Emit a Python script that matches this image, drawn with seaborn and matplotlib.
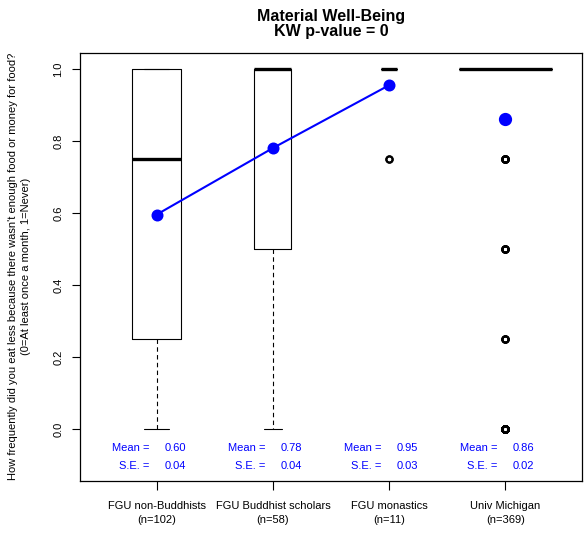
import numpy as np
import pandas as pd
import seaborn as sns
import matplotlib
matplotlib.use("Agg")
import matplotlib.pyplot as plt

# response levels and how many people gave each answer, per group
levels = [0.0, 0.25, 0.5, 0.75, 1.0]
groups = ["FGU non-Buddhists", "FGU Buddhist scholars", "FGU monastics", "Univ Michigan"]
counts_nonbud = [19, 16, 14, 13, 40]
counts_scholars = [4, 4, 8, 7, 35]
counts_monastics = [0, 0, 0, 2, 9]
counts_michigan = [43, 4, 6, 8, 308]
joined = [True, True, True, False]   # means joined by the blue line

title1 = "Material Well-Being"
title2 = "KW p-value = 0"
ylab = ("How frequently did you eat less because there wasn't enough food or money for food?\n"
        "(0=At least once a month, 1=Never)")

all_counts = [counts_nonbud, counts_scholars, counts_monastics, counts_michigan]
rows = []
for g, cnt in zip(groups, all_counts):
    for lv, c in zip(levels, cnt):
        rows += [(g, lv)] * c
df = pd.DataFrame(rows, columns=["group", "value"])

grp = df.groupby("group", sort=False)["value"]
ns = grp.size().reindex(groups).values
means = grp.mean().reindex(groups).values
ses = (grp.std() / np.sqrt(grp.size())).reindex(groups).values

sns.set_style("white")
plt.rcParams["font.family"] = ["Liberation Sans", "DejaVu Sans"]
plt.rcParams["text.color"] = "black"

fig = plt.figure(figsize=(5.84, 5.33), dpi=100)
ax = fig.add_axes([80 / 584, 1 - 481 / 533, 502 / 584, 428 / 533])

# box width proportional to sqrt(n), like R's varwidth
for g, n in zip(groups, ns):
    sub = df[df.group == g]
    sns.boxplot(data=sub, x="group", y="value", order=groups, ax=ax,
                width=0.8 * np.sqrt(n / ns.max()), fill=False, color="black",
                linewidth=0.8, whis=1.5,
                medianprops={"linewidth": 2.4, "color": "black", "solid_capstyle": "butt"},
                whiskerprops={"linestyle": (0, (4, 3)), "linewidth": 0.8},
                capprops={"linewidth": 0.8},
                flierprops={"marker": "o", "markersize": 4.5, "markeredgewidth": 1.5,
                            "markerfacecolor": "none", "markeredgecolor": "black"})

jg = [g for g, j in zip(groups, joined) if j]
jm = [m for m, j in zip(means, joined) if j]
sns.pointplot(x=jg, y=jm, order=groups, ax=ax, color="blue", errorbar=None,
              markers="o", markersize=7.5, linewidth=1.5)
og = [g for g, j in zip(groups, joined) if not j]
om = [m for m, j in zip(means, joined) if not j]
sns.pointplot(x=og, y=om, order=groups, ax=ax, color="blue", errorbar=None,
              markers="o", markersize=7.5, linestyle="none")

for i, (m, s) in enumerate(zip(means, ses)):
    ax.text(i - 0.064, -0.053, "Mean =", ha="right", va="center", color="blue", fontsize=8)
    ax.text(i + 0.064, -0.053, f"{m:.2f}", ha="left", va="center", color="blue", fontsize=8)
    ax.text(i - 0.064, -0.103, "S.E. =", ha="right", va="center", color="blue", fontsize=8)
    ax.text(i + 0.064, -0.103, f"{s:.2f}", ha="left", va="center", color="blue", fontsize=8)

ax.set_xlim(-0.66, 3.66)
ax.set_ylim(-0.144, 1.044)
ax.set_xlabel("")
ax.set_ylabel("")
ax.set_xticks(range(len(groups)))
ax.set_xticklabels([f"{g}\n(n={n})" for g, n in zip(groups, ns)], fontsize=8, linespacing=1.5)
yt = [0.0, 0.2, 0.4, 0.6, 0.8, 1.0]
ax.set_yticks(yt)
ax.set_yticklabels([f"{v:.1f}" for v in yt], fontsize=8, rotation=90, va="center")
ax.tick_params(axis="x", direction="out", length=6.5, width=0.8, pad=8, bottom=True, colors="black")
ax.tick_params(axis="y", direction="out", length=6, width=0.8, pad=6, left=True, colors="black")
for sp in ax.spines.values():
    sp.set_color("black")
    sp.set_linewidth(0.9)

fig.text(331 / 584, 1 - 21 / 533, title1, ha="center", va="baseline", fontsize=11.5,
         fontweight="bold", color="black")
fig.text(331 / 584, 1 - 36 / 533, title2, ha="center", va="baseline", fontsize=11.5,
         fontweight="bold", color="black")
fig.text(19.5 / 584, 0.5, ylab, rotation=90, ha="center", va="center", fontsize=8,
         linespacing=1.4, color="black")

fig.savefig("out.png", dpi=100)
